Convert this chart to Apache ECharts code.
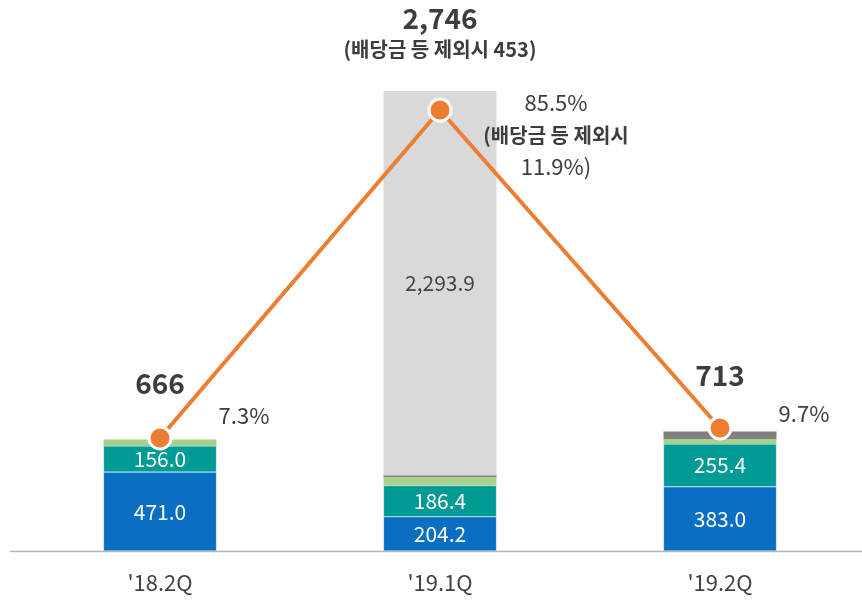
<!DOCTYPE html>
<html>
<head>
<meta charset="utf-8">
<script src="https://cdn.jsdelivr.net/npm/echarts@6/dist/echarts.min.js"></script>
<style>
  html, body { margin: 0; padding: 0; background: #fff; }
  #main { width: 862px; height: 601px; }
</style>
</head>
<body>
<div id="main"></div>
<script>
const categories = ["'18.2Q", "'19.1Q", "'19.2Q"];
const blueVals = [471.0, 204.2, 383.0];
const tealVals = [156.0, 186.4, 255.4];
const greenVals = [39.0, 50.5, 30.0];
const darkGrayVals = [0, 11.0, 44.6];
const lightGrayVals = [0, 2293.9, 0];
const totals = [666, 2746, 713];
const ratios = [7.3, 85.5, 9.7];
const totalNotes = ['', '(배당금 등 제외시 453)', ''];
const ratioNotes = ['', ['(배당금 등 제외시', '11.9%)'], ''];

const FONT = '"Noto Sans CJK KR", "Noto Sans", sans-serif';
const TXT = '#3d3d3d';

const chart = echarts.init(document.getElementById('main'));

function inLabel(color) {
  return {
    show: true,
    position: 'inside',
    color: color,
    fontSize: 21,
    fontFamily: FONT,
    formatter: p => (p.value ? p.value.toLocaleString('en-US', {minimumFractionDigits: 1, maximumFractionDigits: 1}) : '')
  };
}

const barCommon = {
  type: 'bar',
  stack: 'a',
  barWidth: 113,
  itemStyle: { borderColor: 'rgba(255,255,255,0.6)', borderWidth: 0.5 }
};

const option = {
  animation: false,
  grid: { left: 20, right: 2, top: 91, bottom: 50 },
  xAxis: {
    type: 'category',
    data: categories,
    axisLine: { show: false },
    axisTick: { show: false },
    axisLabel: { color: '#444', fontSize: 22, fontFamily: FONT, margin: 21 }
  },
  yAxis: [
    { type: 'value', min: 0, max: 2746, show: false, splitLine: { show: false } },
    { type: 'value', min: -19.64, max: 90.04, show: false, splitLine: { show: false } }
  ],
  graphic: [{
    type: 'line',
    shape: { x1: 10, y1: 551.5, x2: 862, y2: 551.5 },
    style: { stroke: '#b4b4b4', lineWidth: 1.5 }
  }],
  series: [
    Object.assign({}, barCommon, { name: 'blue', data: blueVals, itemStyle: Object.assign({}, barCommon.itemStyle, { color: '#0a6fc2' }), label: inLabel('#fff') }),
    Object.assign({}, barCommon, { name: 'teal', data: tealVals, itemStyle: Object.assign({}, barCommon.itemStyle, { color: '#009b95' }), label: inLabel('#fff') }),
    Object.assign({}, barCommon, { name: 'green', data: greenVals, itemStyle: { color: '#a9d18e' } }),
    Object.assign({}, barCommon, { name: 'dgray', data: darkGrayVals, itemStyle: { color: '#7f7f7f' } }),
    Object.assign({}, barCommon, { name: 'lgray', data: lightGrayVals, itemStyle: { color: '#d9d9d9' }, label: inLabel('#444') }),
    {
      type: 'scatter',
      name: 'total',
      data: totals,
      symbolSize: 0,
      z: 5,
      itemStyle: { opacity: 1, color: 'transparent' },
      label: {
        show: true,
        position: 'top',
        distance: 0,
        color: TXT,
        opacity: 1,
        fontFamily: FONT,
        formatter: p => {
          const t = '{big|' + p.value.toLocaleString('en-US') + '}';
          return totalNotes[p.dataIndex] ? t + '\n{small|' + totalNotes[p.dataIndex] + '}' : t;
        },
        rich: {
          big: { fontSize: 28, fontWeight: 'bold', color: TXT, fontFamily: FONT, lineHeight: 32 },
          small: { fontSize: 20, fontWeight: 'bold', color: TXT, fontFamily: FONT, lineHeight: 30 }
        }
      },
      labelLayout: p => ({ dy: p.dataIndex === 1 ? -27 : -40 })
    },
    {
      type: 'line',
      name: 'ratio',
      yAxisIndex: 1,
      data: ratios.map((v, i) => ({
        value: v,
        label: i === 1
          ? { offset: [116, 25] }
          : { offset: [84, i === 0 ? -22 : -14] }
      })),
      z: 10,
      symbol: 'circle',
      symbolSize: 22,
      lineStyle: { color: '#ed7d31', width: 4 },
      itemStyle: { color: '#ed7d31', borderColor: '#fff', borderWidth: 3 },
      label: {
        show: true,
        position: 'inside',
        color: TXT,
        fontSize: 22,
        fontFamily: FONT,
        lineHeight: 32,
        align: 'center',
        formatter: p => {
          let s = '{v|' + ratios[p.dataIndex].toFixed(1) + '%}';
          const n = ratioNotes[p.dataIndex];
          if (n) s += '\n{n|' + n[0] + '}\n{v|' + n[1] + '}';
          return s;
        },
        rich: {
          v: { fontSize: 22, color: TXT, fontFamily: FONT, lineHeight: 32 },
          n: { fontSize: 20, fontWeight: 'bold', color: TXT, fontFamily: FONT, lineHeight: 32 }
        }
      }
    }
  ]
};

chart.setOption(option);
</script>
</body>
</html>
